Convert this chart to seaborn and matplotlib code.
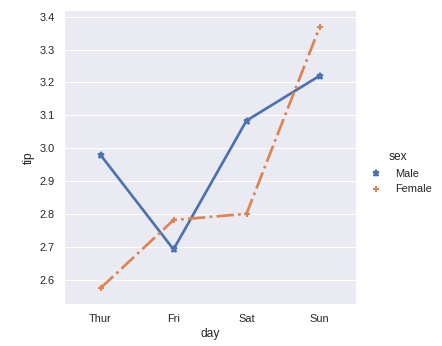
import matplotlib
matplotlib.use("Agg")
import matplotlib.pyplot as plt
import seaborn as sns
import pandas as pd

days = ["Thur", "Fri", "Sat", "Sun"]
male_tip = [2.980, 2.693, 3.084, 3.220]
female_tip = [2.575, 2.782, 2.801, 3.367]

df = pd.DataFrame({
    "day": days * 2,
    "tip": male_tip + female_tip,
    "sex": ["Male"] * 4 + ["Female"] * 4,
})

sns.set_theme(style="darkgrid")
plt.rcParams["font.family"] = ["Liberation Sans", "DejaVu Sans"]
g = sns.catplot(data=df, x="day", y="tip", hue="sex", kind="point",
                order=days, hue_order=["Male", "Female"],
                markers=["*", "+"], linestyles=["-", "-."],
                errorbar=None, height=4.8, aspect=1.0)
g.figure.set_size_inches(442/72, 346/72)
g.figure.subplots_adjust(left=64/442, right=356/442, top=1-11/346, bottom=1-304/346)
g.ax.set_ylim(2.527, 3.417)
for h in g.legend.legend_handles:
    h.set_linestyle("None")
g.figure.savefig("out.png", dpi=72)
